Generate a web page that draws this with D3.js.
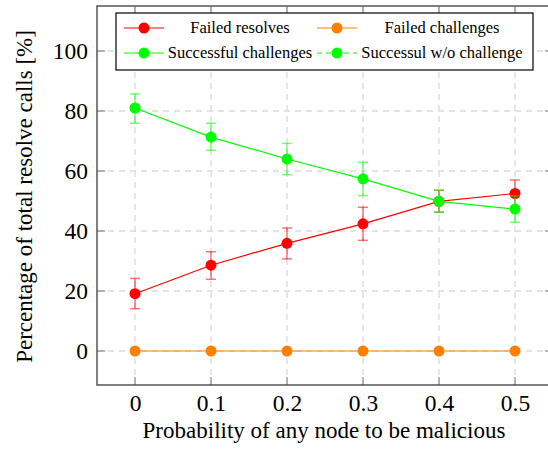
<!DOCTYPE html>
<html>
<head>
<meta charset="utf-8">
<script src="https://cdn.jsdelivr.net/npm/d3@7"></script>
<style>
  html, body { margin: 0; padding: 0; background: #fff; }
  svg { display: block; }
</style>
</head>
<body>
<svg id="chart" width="548" height="451" font-family="Liberation Serif"></svg>
<script>
// Probability that a node is malicious
const probabilities = [0, 0.1, 0.2, 0.3, 0.4, 0.5];

// Percentages of total resolve calls, with error-bar bounds
const failedResolves      = [19.1, 28.6, 35.9, 42.4, 49.9, 52.5];
const failedResolvesLow   = [14.1, 23.9, 30.7, 36.9, 46.3, 47.9];
const failedResolvesHigh  = [24.2, 33.1, 41.0, 47.9, 53.6, 57.0];

const failedChallenges    = [0, 0, 0, 0, 0, 0];

const successChallenges     = [81.0, 71.3, 64.0, 57.4, 49.9, 47.3];
const successChallengesLow  = [75.9, 66.9, 58.8, 51.8, 46.2, 42.9];
const successChallengesHigh = [85.7, 75.9, 69.2, 62.9, 53.6, 51.7];

const xTicks = [0, 0.1, 0.2, 0.3, 0.4, 0.5];
const yTicks = [0, 20, 40, 60, 80, 100];

const legendNames = ["Failed resolves", "Failed challenges", "Successful challenges", "Successul w/o challenge"];
const legendColors = ["#ff0000", "#ff8000", "#00ff00", "#00ff00"];
const legendDashed = [false, false, false, true];

const FONT = "Liberation Serif";
const svg = d3.select("#chart");
const plotLeft = 97, plotRight = 553, plotTop = 6, plotBottom = 385;

const x = d3.scaleLinear().domain([-0.05, 0.55]).range([plotLeft, plotRight]);
const y = d3.scaleLinear().domain([-11.33, 115]).range([plotBottom, plotTop]);

// clip for everything drawn inside the axes box
svg.append("defs").append("clipPath").attr("id", "plotClip")
  .append("rect").attr("x", plotLeft).attr("y", plotTop)
  .attr("width", plotRight - plotLeft).attr("height", plotBottom - plotTop);

// grid
const grid = svg.append("g").attr("clip-path", "url(#plotClip)");
grid.selectAll("line.gx").data(xTicks).join("line").attr("class", "gx")
  .attr("x1", d => x(d)).attr("x2", d => x(d))
  .attr("y1", plotTop).attr("y2", plotBottom)
  .attr("stroke", "#dcdcdc").attr("stroke-width", 1.4).attr("stroke-dasharray", "6,5");
grid.selectAll("line.gy").data(yTicks).join("line").attr("class", "gy")
  .attr("y1", d => y(d)).attr("y2", d => y(d))
  .attr("x1", plotLeft).attr("x2", plotRight)
  .attr("stroke", "#dcdcdc").attr("stroke-width", 1.4).attr("stroke-dasharray", "6,5");

// axes (ticks inward, mirrored on all sides)
const tickLen = 8;
const tickFont = 23.5;
const bottomAxis = d3.axisBottom(x).tickValues(xTicks).tickSize(0).tickPadding(9)
  .tickFormat(d => d === 0 ? "0" : d3.format(".1f")(d));
svg.append("g").attr("transform", `translate(0,${plotBottom})`).call(bottomAxis)
  .attr("font-family", FONT).attr("font-size", tickFont)
  .call(g => g.select(".domain").remove())
  .call(g => g.selectAll("text").attr("fill", "#000"));
const leftAxis = d3.axisLeft(y).tickValues(yTicks).tickSize(0).tickPadding(9);
svg.append("g").attr("transform", `translate(${plotLeft},0)`).call(leftAxis)
  .attr("font-family", FONT).attr("font-size", tickFont)
  .call(g => g.select(".domain").remove())
  .call(g => g.selectAll("text").attr("fill", "#000"));

const ticksG = svg.append("g").attr("stroke", "#8a8a8a").attr("stroke-width", 1.2);
xTicks.forEach(t => {
  ticksG.append("line").attr("x1", x(t)).attr("x2", x(t)).attr("y1", plotBottom).attr("y2", plotBottom - tickLen);
  ticksG.append("line").attr("x1", x(t)).attr("x2", x(t)).attr("y1", plotTop).attr("y2", plotTop + tickLen);
});
yTicks.forEach(t => {
  ticksG.append("line").attr("y1", y(t)).attr("y2", y(t)).attr("x1", plotLeft).attr("x2", plotLeft + tickLen);
  ticksG.append("line").attr("y1", y(t)).attr("y2", y(t)).attr("x1", plotRight).attr("x2", plotRight - tickLen);
});

// frame
svg.append("rect").attr("x", plotLeft).attr("y", plotTop)
  .attr("width", plotRight - plotLeft).attr("height", plotBottom - plotTop)
  .attr("fill", "none").attr("stroke", "#555").attr("stroke-width", 1.5);

// series
const plot = svg.append("g").attr("clip-path", "url(#plotClip)");
const line = d3.line().x((d, i) => x(probabilities[i])).y(d => y(d));

function drawErrorBars(low, high, color) {
  const g = plot.append("g").attr("stroke", color).attr("stroke-width", 1.5).attr("stroke-opacity", 0.55);
  probabilities.forEach((p, i) => {
    g.append("line").attr("x1", x(p)).attr("x2", x(p)).attr("y1", y(low[i])).attr("y2", y(high[i]));
    g.append("line").attr("x1", x(p) - 5).attr("x2", x(p) + 5).attr("y1", y(low[i])).attr("y2", y(low[i]));
    g.append("line").attr("x1", x(p) - 5).attr("x2", x(p) + 5).attr("y1", y(high[i])).attr("y2", y(high[i]));
  });
}
function drawSeries(values, color) {
  plot.append("path").datum(values).attr("d", line)
    .attr("fill", "none").attr("stroke", color).attr("stroke-width", 1.2);
  plot.append("g").selectAll("circle").data(values).join("circle")
    .attr("cx", (d, i) => x(probabilities[i])).attr("cy", d => y(d))
    .attr("r", 5.5).attr("fill", color);
}

drawErrorBars(failedResolvesLow, failedResolvesHigh, "#ff0000");
drawSeries(failedResolves, "#ff0000");
drawSeries(failedChallenges, "#ff8000");
drawErrorBars(successChallengesLow, successChallengesHigh, "#00ff00");
drawSeries(successChallenges, "#00ff00");

// legend
const lg = svg.append("g").attr("font-family", FONT);
lg.append("rect").attr("x", 116).attr("y", 13).attr("width", 417).attr("height", 57)
  .attr("fill", "#fff").attr("stroke", "#000").attr("stroke-width", 1.2);
const colLine = [124, 317];
const colText = [240, 442];
const rowY = [28, 53];
legendNames.forEach((name, i) => {
  const c = i % 2, r = Math.floor(i / 2);
  const x0 = colLine[c], yy = rowY[r];
  lg.append("line").attr("x1", x0).attr("x2", x0 + 40).attr("y1", yy).attr("y2", yy)
    .attr("stroke", legendColors[i]).attr("stroke-width", 1.2)
    .attr("stroke-dasharray", legendDashed[i] ? "5,4" : null);
  lg.append("circle").attr("cx", x0 + 20).attr("cy", yy).attr("r", 5.5).attr("fill", legendColors[i]);
  lg.append("text").attr("x", colText[c]).attr("y", yy).attr("dy", "0.33em")
    .attr("text-anchor", "middle").attr("font-size", 16.5).text(name);
});

// axis titles
svg.append("text").attr("font-family", FONT).attr("x", 324).attr("y", 438)
  .attr("text-anchor", "middle").attr("font-size", 23)
  .text("Probability of any node to be malicious");
svg.append("text").attr("font-family", FONT)
  .attr("transform", `translate(32,${(plotTop + plotBottom) / 2 + 1}) rotate(-90)`)
  .attr("text-anchor", "middle").attr("font-size", 23)
  .text("Percentage of total resolve calls [%]");
</script>
</body>
</html>
